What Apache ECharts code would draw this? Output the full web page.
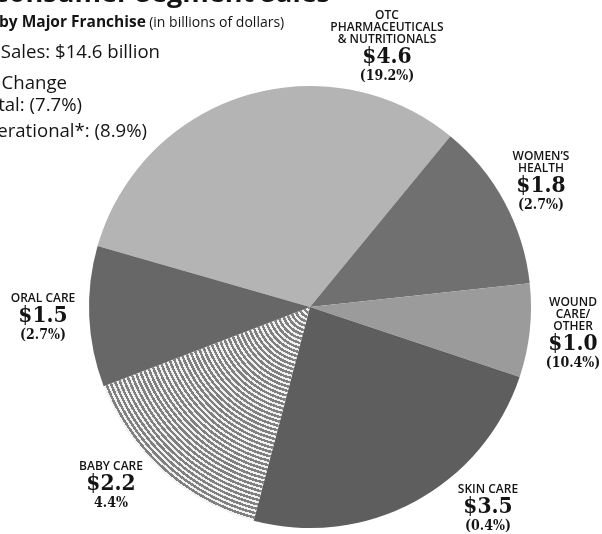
<!DOCTYPE html>
<html>
<head>
<meta charset="utf-8">
<script src="https://cdn.jsdelivr.net/npm/echarts@6/dist/echarts.min.js"></script>
<style>
  html, body { margin: 0; padding: 0; background: #ffffff; }
  #chart { width: 602px; height: 534px; }
</style>
</head>
<body>
<div id="chart"></div>
<script>
// Consumer segment sales by major franchise, in billions of dollars
const franchises = [
  'OTC\nPHARMACEUTICALS\n& NUTRITIONALS',
  'WOMEN\u2019S\nHEALTH',
  'WOUND\nCARE/\nOTHER',
  'SKIN CARE',
  'BABY CARE',
  'ORAL CARE'
];
const sales = [4.6, 1.8, 1.0, 3.5, 2.2, 1.5];
const changes = ['(19.2%)', '(2.7%)', '(10.4%)', '(0.4%)', '4.4%', '(2.7%)'];

const totalSales = 'Total Sales: $14.6 billion';
const changeLines = ['Percent Change', 'Total: (7.7%)', 'Operational*: (8.9%)'];

// layout
const CX = 310, CY = 307, R = 221;
const labelAnchors = [[387, 10], [541, 151], [573, 297], [488, 484], [111, 461], [43, 293]];
const sliceColors = ['#b4b4b4', '#707070', '#9b9b9b', '#5e5e5e', null, '#676767'];

// concentric ring hatching centred on the pie
function ringFill(cx, cy, r, period) {
  const n = Math.round(r / period);
  const stops = [];
  for (let i = 0; i < n; i++) {
    const a = i / n, m = (i + 0.55) / n, b = (i + 1) / n;
    stops.push(
      { offset: a, color: '#808080' }, { offset: m, color: '#808080' },
      { offset: m, color: '#f2f2f2' }, { offset: b, color: '#f2f2f2' }
    );
  }
  return { type: 'radial', x: cx, y: cy, r: r, global: true, colorStops: stops };
}

const pieData = sales.map((v, i) => ({
  name: franchises[i],
  value: v,
  itemStyle: { color: sliceColors[i] || ringFill(CX, CY, R, 4.5) }
}));

const chart = echarts.init(document.getElementById('chart'), null, { renderer: 'canvas' });

const ink = '#141414';
const bodyFont = '18.6px "Open Sans"';
const slab = '"DejaVu Serif Condensed", "DejaVu Serif"';
chart.setOption({
  backgroundColor: '#ffffff',
  animation: false,
  graphic: [
    { type: 'text', style: { x: 330, y: -6, text: 'Consumer Segment Sales', textAlign: 'right', textVerticalAlign: 'middle', font: 'bold 27px "Open Sans"', fill: ink } },
    { type: 'text', style: { x: -1, y: 23, textVerticalAlign: 'middle', fill: ink,
        text: '{b|by Major Franchise} {r|(in billions of dollars)}',
        rich: { b: { font: 'bold 15.5px "Open Sans"', fill: ink }, r: { font: '14px "Open Sans"', fill: ink } } } },
    { type: 'text', style: { x: 160, y: 53, text: totalSales, textAlign: 'right', textVerticalAlign: 'middle', font: bodyFont, fill: ink } },
    { type: 'text', style: { x: 67, y: 84, text: changeLines[0], textAlign: 'right', textVerticalAlign: 'middle', font: bodyFont, fill: ink } },
    { type: 'text', style: { x: 82, y: 106, text: changeLines[1], textAlign: 'right', textVerticalAlign: 'middle', font: bodyFont, fill: ink } },
    { type: 'text', style: { x: 147, y: 132, text: changeLines[2], textAlign: 'right', textVerticalAlign: 'middle', font: bodyFont, fill: ink } }
  ],
  series: [{
    type: 'pie',
    center: [CX, CY],
    radius: R,
    startAngle: 164,
    clockwise: true,
    avoidLabelOverlap: false,
    silent: true,
    itemStyle: { borderWidth: 0 },
    emphasis: { disabled: true },
    labelLine: { show: false },
    label: {
      show: true,
      position: 'outside',
      align: 'center',
      color: ink,
      formatter: (p) => '{n|' + p.name + '}\n{v|$' + p.value.toFixed(1) + '}\n{p|' + changes[p.dataIndex] + '}',
      rich: {
        n: { fontFamily: 'Open Sans', fontWeight: 600, fontSize: 12, lineHeight: 12, color: ink, align: 'center' },
        v: { fontFamily: slab, fontWeight: 'bold', fontSize: 22.5, lineHeight: 22, color: ink, align: 'center' },
        p: { fontFamily: slab, fontWeight: 'bold', fontSize: 14, lineHeight: 17, color: ink, align: 'center' }
      }
    },
    labelLayout: (params) => {
      const a = labelAnchors[params.dataIndex];
      return { x: a[0], y: a[1], align: 'center', verticalAlign: 'top' };
    },
    data: pieData
  }]
});
</script>
</body>
</html>
